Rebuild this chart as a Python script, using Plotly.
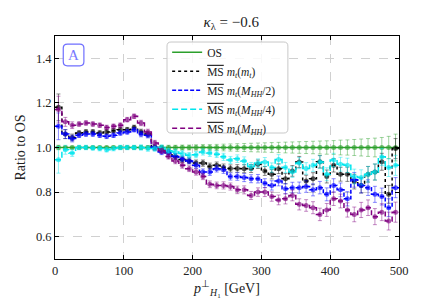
import plotly.graph_objects as go

# ---------------- data ----------------
bin_edges = [i * 10 for i in range(51)]
bin_centers = [i * 10 + 5 for i in range(50)]

os_vals = [1.0] * 50
os_err = [0.01, 0.006, 0.006, 0.006, 0.006, 0.006, 0.006, 0.006, 0.007, 0.007,
          0.007, 0.008, 0.008, 0.008, 0.009, 0.009, 0.01, 0.01, 0.011, 0.011,
          0.012, 0.013, 0.013, 0.014, 0.015, 0.016, 0.017, 0.018, 0.019, 0.02,
          0.021, 0.022, 0.023, 0.024, 0.025, 0.026, 0.027, 0.028, 0.029, 0.03,
          0.031, 0.033, 0.034, 0.036, 0.038, 0.04, 0.042, 0.045, 0.05, 0.06]

ms_mt = [1.18, 1.06, 1.045, 1.065, 1.07, 1.07, 1.065, 1.07, 1.075, 1.08,
         1.08, 1.09, 1.07, 1.06, 1.0, 0.995, 0.98, 0.96, 0.946, 0.94,
         0.93, 0.93, 0.915, 0.92, 0.91, 0.906, 0.906, 0.905, 0.906, 0.925,
         0.895, 0.88, 0.905, 0.86, 0.895, 0.935, 0.85, 0.86, 0.936, 0.87,
         0.92, 0.88, 0.88, 0.847, 0.83, 0.88, 0.89, 0.936, 0.79, 0.995]

ms_mhh2 = [1.095, 1.06, 1.04, 1.055, 1.06, 1.06, 1.055, 1.05, 1.055, 1.065,
           1.07, 1.08, 1.06, 1.055, 1.0, 0.98, 0.975, 0.96, 0.95, 0.94,
           0.92, 0.89, 0.89, 0.905, 0.9, 0.87, 0.87, 0.865, 0.86, 0.86,
           0.84, 0.83, 0.85, 0.815, 0.82, 0.82, 0.825, 0.81, 0.82, 0.79,
           0.83, 0.81, 0.77, 0.855, 0.83, 0.82, 0.79, 0.78, 0.73, 0.82]

ms_mhh4 = [0.945, 0.99, 0.975, 1.0, 1.0, 0.998, 0.995, 0.99, 0.995, 1.0,
           1.0, 1.0, 1.0, 0.995, 0.995, 1.0, 0.985, 0.98, 0.973, 0.965,
           0.968, 0.98, 0.975, 0.97, 0.958, 0.944, 0.95, 0.94, 0.915, 0.93,
           0.935, 0.91, 0.946, 0.91, 0.89, 0.93, 0.906, 0.92, 0.935, 0.88,
           0.944, 0.925, 0.92, 0.87, 0.866, 0.88, 0.89, 0.958, 0.91, 0.92]

ms_mhh = [1.17, 1.115, 1.1, 1.105, 1.11, 1.105, 1.1, 1.09, 1.095, 1.1,
          1.125, 1.14, 1.11, 1.07, 1.02, 0.985, 0.96, 0.94, 0.92, 0.905,
          0.89, 0.87, 0.835, 0.83, 0.83, 0.825, 0.81, 0.81, 0.785, 0.8,
          0.8, 0.78, 0.765, 0.77, 0.785, 0.745, 0.74, 0.73, 0.7, 0.72,
          0.77, 0.76, 0.72, 0.7, 0.72, 0.73, 0.69, 0.71, 0.67, 0.71]

ms_err = [0.06, 0.02, 0.015, 0.01, 0.01, 0.01, 0.01, 0.01, 0.01, 0.01,
          0.01, 0.01, 0.012, 0.012, 0.012, 0.012, 0.012, 0.013, 0.013, 0.013,
          0.014, 0.014, 0.015, 0.015, 0.016, 0.016, 0.017, 0.018, 0.018, 0.019,
          0.02, 0.021, 0.022, 0.023, 0.024, 0.025, 0.026, 0.027, 0.028, 0.029,
          0.03, 0.031, 0.032, 0.033, 0.034, 0.035, 0.036, 0.038, 0.04, 0.045]

x_ticks = [0, 100, 200, 300, 400, 500]
y_ticks = [0.6, 0.8, 1.0, 1.2, 1.4]

OL = "<span style='text-decoration:overline'>MS</span>"
series = [
    ("OS", os_vals, os_err, "#2ca02c", "solid"),
    (OL + " <i>m<sub>t</sub></i>(<i>m<sub>t</sub></i>)", ms_mt, ms_err, "#000000", "dot"),
    (OL + " <i>m<sub>t</sub></i>(<i>M<sub>HH</sub></i>/2)", ms_mhh2, ms_err, "#0000ff", "4px,2px"),
    (OL + " <i>m<sub>t</sub></i>(<i>M<sub>HH</sub></i>/4)", ms_mhh4, ms_err, "#00e5ee", "6px,3px"),
    (OL + " <i>m<sub>t</sub></i>(<i>M<sub>HH</sub></i>)", ms_mhh, ms_err, "#800080", "5px,3px"),
]

def rgba(hexc, a):
    h = hexc.lstrip("#")
    return "rgba(%d,%d,%d,%.2f)" % (int(h[0:2], 16), int(h[2:4], 16), int(h[4:6], 16), a)

fig = go.Figure()
for name, vals, err, col, dash in series:
    fig.add_trace(go.Scatter(
        x=bin_edges, y=vals + [vals[-1]], mode="lines", line_shape="hv",
        line=dict(color=col, width=1.5, dash=dash), name=name))
    fig.add_trace(go.Scatter(
        x=bin_centers, y=vals, mode="markers", showlegend=False,
        marker=dict(color=rgba(col, 0.65), size=5),
        error_y=dict(type="data", array=err, color=rgba(col, 0.45), thickness=1, width=2)))

FONT = "Liberation Serif"
axis_common = dict(showline=True, linecolor="black", linewidth=1, mirror="ticks",
                   ticks="inside", ticklen=4, tickcolor="black", automargin=False,
                   showgrid=True, gridcolor="#d0d0d0", griddash="dash", gridwidth=0.8,
                   zeroline=False, tickfont=dict(size=12.5, family=FONT, color="#222"))

fig.update_layout(
    width=436, height=297,
    margin=dict(l=47, r=45, t=28, b=46),
    paper_bgcolor="white", plot_bgcolor="white",
    font=dict(family=FONT, size=11, color="#222"),
    title=dict(text="<i>κ</i><sub>λ</sub> = −0.6", x=0.512, xanchor="center",
               y=0.955, yanchor="middle", font=dict(size=15, family=FONT)),
    xaxis=dict(range=[0, 500], tickvals=x_ticks,
               title=dict(text="<i>p</i><sup>⊥</sup><sub><i>H</i><sub>1</sub></sub> [GeV]",
                          font=dict(size=14, family=FONT), standoff=6),
               **axis_common),
    yaxis=dict(range=[0.5, 1.5], tickvals=y_ticks, tickformat=".1f",
               title=dict(text="Ratio to OS", font=dict(size=14, family=FONT), standoff=6),
               **axis_common),
    legend=dict(x=0.326, y=0.992, xanchor="left", yanchor="top",
                bgcolor="rgba(0,0,0,0)", borderwidth=0,
                font=dict(size=11.5, family=FONT), tracegroupgap=0),
    showlegend=True,
)

def rounded(x0, x1, y0, y1, rx, ry):
    return (f"M {x0+rx},{y0} L {x1-rx},{y0} Q {x1},{y0} {x1},{y0+ry} L {x1},{y1-ry} "
            f"Q {x1},{y1} {x1-rx},{y1} L {x0+rx},{y1} Q {x0},{y1} {x0},{y1-ry} "
            f"L {x0},{y0+ry} Q {x0},{y0} {x0+rx},{y0} Z")

# legend frame
fig.add_shape(type="path", path=rounded(0.3256, 0.677, 0.565, 0.973, 0.0116, 0.018),
              xref="paper", yref="paper", layer="above",
              line=dict(color="#c8c8c8", width=1), fillcolor="rgba(255,255,255,0.85)")

# rounded label box "A"
x0, x1, y0, y1 = 0.024, 0.084, 0.866, 0.964
fig.add_shape(type="path", path=rounded(x0, x1, y0, y1, 0.012, 0.018), xref="paper", yref="paper",
              line=dict(color="#6f6fff", width=1.2), fillcolor="white")
fig.add_annotation(text="A", x=(x0 + x1) / 2, y=(y0 + y1) / 2, xref="paper", yref="paper",
                   xanchor="center", yanchor="middle",
                   showarrow=False, font=dict(size=15, family=FONT, color="#7a7aff"))

fig.write_html("out.html")
